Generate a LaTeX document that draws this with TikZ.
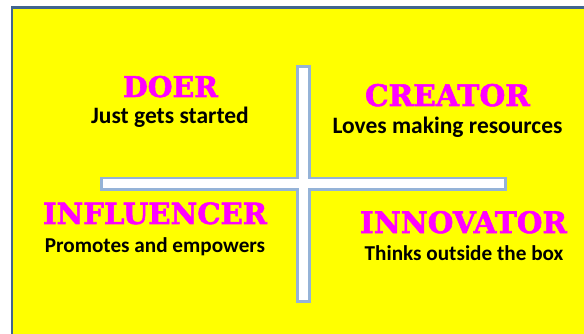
\documentclass[tikz,border=0pt]{standalone}
\usepackage{fontspec}
\usepackage{graphicx}
\newfontfamily\titlefont{DejaVu Serif}[BoldFeatures={FakeBold=2}]
\newfontfamily\subfont{Carlito}
\definecolor{framecol}{HTML}{41658F}
\definecolor{crossline}{HTML}{95B3D7}
\definecolor{bgyellow}{HTML}{FFFF00}
\definecolor{titlemag}{HTML}{FF00FF}
\tikzset{
  titletext/.style={anchor=base, inner sep=0pt, text=titlemag, font=\titlefont\bfseries\fontsize{30}{30}\selectfont},
  subtext/.style={anchor=base, inner sep=0pt, text=black, font=\subfont\bfseries\fontsize{23.5}{23.5}\selectfont},
  subsmall/.style={subtext, font=\subfont\bfseries\fontsize{21.2}{21.2}\selectfont},
}
\newcommand{\fitw}[2]{\resizebox{#1}{!}{#2}}
\begin{document}
\begin{tikzpicture}[x=1pt,y=-1pt]
\useasboundingbox (0,0) rectangle (584,334);
\clip (0,0) rectangle (584,334);
\fill[white] (0,0) rectangle (584,334);
\draw[framecol, line width=2.8pt, fill=bgyellow] (12,7.5) rectangle (600,350);
\draw[crossline, line width=2.5pt, fill=white, line join=miter]
  (297.5,66.5) -- (309.5,66.5) -- (309.5,178) -- (505.5,178) -- (505.5,189.5)
  -- (309.5,189.5) -- (309.5,301.5) -- (297.5,301.5) -- (297.5,189.5)
  -- (101.5,189.5) -- (101.5,178) -- (297.5,178) -- cycle;
\node[titletext] (doer) at (170.5,97) {\fitw{95pt}{DOER}};
\node[subtext] (doersub) at (170,124) {Just gets started};
\node[titletext] (creator) at (447.5,106) {\fitw{165pt}{CREATOR}};
\node[subtext] (creatorsub) at (447.5,133.5) {Loves making resources};
\node[titletext] (influencer) at (155,224) {\fitw{224pt}{INFLUENCER}};
\node[subsmall] (influencersub) at (155,252) {Promotes and empowers};
\node[titletext] (innovator) at (463.5,233) {\fitw{207pt}{INNOVATOR}};
\node[subsmall] (innovatorsub) at (464,260) {Thinks outside the box};
\end{tikzpicture}
\end{document}
